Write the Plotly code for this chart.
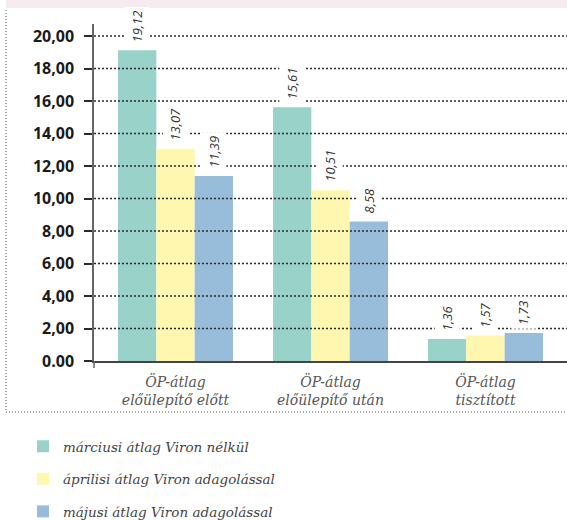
import plotly.graph_objects as go

# Categories and series values
categories = ["ÖP-átlag<br>előülepítő előtt", "ÖP-átlag<br>előülepítő után", "ÖP-átlag<br>tisztított"]
series_names = ["márciusi átlag Viron nélkül", "áprilisi átlag Viron adagolással", "májusi átlag Viron adagolással"]
marcius = [19.12, 15.61, 1.36]
aprilis = [13.07, 10.51, 1.57]
majus = [11.39, 8.58, 1.73]
series_values = [marcius, aprilis, majus]
series_colors = ["#98D2C9", "#FFF7AF", "#98BDDB"]

tick_vals = [0, 2, 4, 6, 8, 10, 12, 14, 16, 18, 20]
tick_text = ["0.00", "2,00", "4,00", "6,00", "8,00", "10,00", "12,00", "14,00", "16,00", "18,00", "20,00"]

# Layout geometry (pixels)
W, H = 567, 520
ML, MR, MT, MB = 94, 0, 24, 159
PW, PH = W - ML - MR, H - MT - MB
Y_MAX = 20.74
X_RANGE = [-0.526, 2.526]
BARGAP = 0.258


def px_x(px):
    return (px - ML) / PW


def px_y(py):
    return (H - MB - py) / PH


def italic(s):
    return "<br>".join(f"<i>{part}</i>" for part in s.split("<br>"))


fig = go.Figure()
for name, vals, col in zip(series_names, series_values, series_colors):
    fig.add_trace(go.Bar(
        x=list(range(len(categories))), y=vals, name=italic(name),
        marker=dict(color=col, line=dict(width=0)),
        legendgroup=name,
    ))

# dotted gridlines laid over the bars
for v in tick_vals[1:]:
    fig.add_trace(go.Scatter(
        x=X_RANGE, y=[v, v], mode="lines", showlegend=False, hoverinfo="skip",
        line=dict(color="#2a2a2a", width=1.5, dash="2px,2px"),
    ))

# short stub of the vertical axis below the baseline
fig.add_shape(type="line", xref="paper", yref="paper",
              x0=0, x1=0, y0=px_y(368), y1=0,
              line=dict(color="#666666", width=1.5))
# pink band along the top
fig.add_shape(type="rect", xref="paper", yref="paper",
              x0=px_x(6), x1=px_x(W), y0=px_y(8), y1=px_y(0),
              fillcolor="#F5EBF0", line=dict(width=0))
# dotted frame on the left and bottom
fig.add_shape(type="line", xref="paper", yref="paper",
              x0=px_x(6), x1=px_x(6), y0=px_y(10), y1=px_y(412),
              line=dict(color="#555555", width=1, dash="1px,2px"))
fig.add_shape(type="line", xref="paper", yref="paper",
              x0=px_x(6), x1=px_x(W), y0=px_y(412), y1=px_y(412),
              line=dict(color="#555555", width=1, dash="1px,2px"))

# value labels above each bar
bar_w = (1 - BARGAP) / 3
for j, vals in enumerate(series_values):
    for i, v in enumerate(vals):
        fig.add_annotation(
            x=i + (j - 1) * bar_w, y=v, xref="x", yref="y",
            text=italic(f"{v:.2f}".replace(".", ",")), showarrow=False,
            textangle=-90, yanchor="bottom", xanchor="center", yshift=4,
            bgcolor="white", borderpad=3,
            font=dict(family="Open Sans", size=13, color="#333333"),
        )

fig.update_layout(
    width=W, height=H,
    margin=dict(l=ML, r=MR, t=MT, b=MB, autoexpand=False),
    paper_bgcolor="white", plot_bgcolor="white",
    barmode="group", bargap=BARGAP, bargroupgap=0,
    showlegend=True,
    legend=dict(
        x=px_x(23), y=px_y(431), xanchor="left", yanchor="top",
        orientation="v", tracegroupgap=12, traceorder="grouped",
        font=dict(family="DejaVu Serif", size=13.5, color="#444444"),
        bgcolor="rgba(0,0,0,0)",
    ),
    xaxis=dict(
        range=X_RANGE, tickvals=list(range(len(categories))),
        ticktext=[italic(c) for c in categories],
        showgrid=False, zeroline=False,
        showline=True, linecolor="#444444", linewidth=1.5,
        ticks="outside", ticklen=7, tickcolor="rgba(0,0,0,0)",
        tickfont=dict(family="DejaVu Serif", size=14, color="#555555"),
    ),
    yaxis=dict(
        range=[0, Y_MAX], tickvals=tick_vals,
        ticktext=[f"<b>{t}</b>" for t in tick_text],
        showgrid=False, zeroline=False,
        showline=True, linecolor="#666666", linewidth=1.5,
        ticks="outside", ticklen=8, tickwidth=1.5, tickcolor="#2a2a2a",
        ticklabelstandoff=7,
        tickfont=dict(family="Open Sans", size=16, color="#1a1a1a"),
    ),
)

fig.write_html("out.html")
